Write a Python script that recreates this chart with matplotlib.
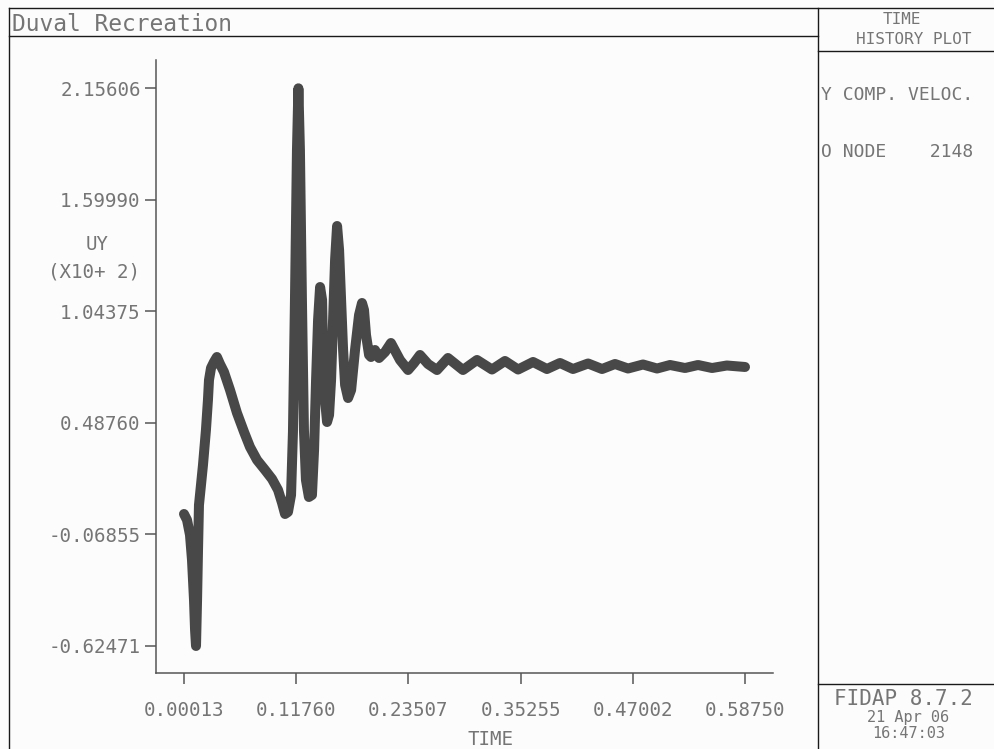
import matplotlib
matplotlib.use('Agg')
import matplotlib.pyplot as plt
from matplotlib.lines import Line2D

# time history of node 2148, Y component of velocity (x10+2)
time = [0.00013, 0.0033, 0.0064, 0.0085, 0.0106, 0.0117, 0.0127, 0.0138, 0.0148, 0.0158,
        0.0200, 0.0231, 0.0252, 0.0263, 0.0284, 0.0315, 0.0346, 0.0378, 0.0420, 0.0483,
        0.0556, 0.0630, 0.0692, 0.0766, 0.0850, 0.0923, 0.0986, 0.1028, 0.1059, 0.1090,
        0.1122, 0.1142, 0.1163, 0.1184, 0.1199, 0.1215, 0.1236, 0.1257, 0.1278, 0.1309,
        0.1341, 0.1363, 0.1384, 0.1405, 0.1426, 0.1447, 0.1457, 0.1478, 0.1499, 0.1520,
        0.1541, 0.1562, 0.1583, 0.1604, 0.1625, 0.1646, 0.1667, 0.1688, 0.1719, 0.1751,
        0.1792, 0.1834, 0.1865, 0.1886, 0.1907, 0.1939, 0.1959, 0.2001, 0.2043, 0.2106,
        0.2168, 0.2263, 0.2347, 0.2410, 0.2472, 0.2556, 0.2650, 0.2765, 0.2922, 0.3069,
        0.3226, 0.3362, 0.3499, 0.3656, 0.3801, 0.3938, 0.4074, 0.4232, 0.4378, 0.4514,
        0.4650, 0.4807, 0.4954, 0.5090, 0.5247, 0.5383, 0.5530, 0.5685, 0.5875]
uy = [0.0334, 0.0036, -0.0712, -0.1959, -0.3953, -0.5449, -0.62471, -0.3953, -0.1460, 0.0783,
      0.2777, 0.4522, 0.6018, 0.7015, 0.7613, 0.7913, 0.8163, 0.7814, 0.7415, 0.6518,
      0.5371, 0.4423, 0.3676, 0.3027, 0.2529, 0.2080, 0.1531, 0.0883, 0.0335, 0.0435,
      0.1282, 0.4426, 1.1005, 1.8484, 2.15606, 1.8484, 1.1005, 0.4522, 0.2029, 0.1182,
      0.1282, 0.3525, 0.7015, 1.0008, 1.1653, 1.1005, 0.8512, 0.6018, 0.4921, 0.5271,
      0.7015, 1.0008, 1.2999, 1.4695, 1.3498, 1.1005, 0.8512, 0.6766, 0.6117, 0.6517,
      0.8512, 1.0257, 1.0856, 1.0507, 0.9260, 0.8263, 0.8163, 0.8512, 0.8113, 0.8412,
      0.8861, 0.8014, 0.7514, 0.7864, 0.8263, 0.7814, 0.7514, 0.8113, 0.7514, 0.8014,
      0.7539, 0.7964, 0.7539, 0.7914, 0.7564, 0.7864, 0.7564, 0.7839, 0.7564, 0.7814,
      0.7589, 0.7789, 0.7589, 0.7764, 0.7614, 0.7764, 0.7614, 0.7739, 0.7665]

xticks = [0.00013, 0.11760, 0.23507, 0.35255, 0.47002, 0.58750]
yticks = [-0.62471, -0.06855, 0.48760, 1.04375, 1.59990, 2.15606]

W, H = 994, 749
def fx(x):
    return x / W
def fy(y):
    return 1 - y / H

mono = 'DejaVu Sans Mono'
txtc = '#757575'

fig = plt.figure(figsize=(W / 100, H / 100), dpi=100, facecolor='#fcfcfc')

# frame lines of the plot sheet
frame = [((9, 9), (8, 749)), ((9, 994), (8, 8)), ((9, 818), (36, 36)),
         ((818, 818), (8, 749)), ((818, 994), (51, 51)), ((818, 994), (684, 684))]
for xs, ys in frame:
    fig.add_artist(Line2D([fx(v) for v in xs], [fy(v) for v in ys],
                          color='#1a1a1a', lw=1.0))

ax = fig.add_axes([fx(156), fy(673), fx(773 - 156), (673 - 60) / H])
ax.set_facecolor('none')
ax.plot(time, uy, color='#484848', lw=7.2, solid_joinstyle='round', solid_capstyle='round')

ax.set_xlim(-0.02919, 0.61681)
ax.set_ylim(-0.75937, 2.29717)
ax.set_xticks(xticks)
ax.set_xticklabels([f'{v:.5f}' for v in xticks])
ax.set_yticks(yticks)
ax.set_yticklabels([f'{v:.5f}' for v in yticks])
for s in ['top', 'right']:
    ax.spines[s].set_visible(False)
for s in ['left', 'bottom']:
    ax.spines[s].set_color('#555555')
    ax.spines[s].set_linewidth(1.1)
ax.tick_params(axis='both', direction='out', length=8, width=1.1, color='#555555',
               labelcolor=txtc, labelsize=13.8)
ax.tick_params(axis='x', pad=12)
ax.tick_params(axis='y', pad=3)
for lab in ax.get_xticklabels() + ax.get_yticklabels():
    lab.set_family(mono)

def label(x, y, s, size, ha='left'):
    fig.text(fx(x), fy(y), s, family=mono, color=txtc, fontsize=size, ha=ha, va='baseline')

label(490, 745, 'TIME', 13.8, 'center')
label(97, 250, 'UY', 13.8, 'center')
label(94, 278, '(X10+ 2)', 13.8, 'center')

label(12, 31, 'Duval Recreation', 16.5)

label(902, 24, 'TIME', 11.5, 'center')
label(914, 43.5, 'HISTORY PLOT', 11.5, 'center')
label(821, 100, 'Y COMP. VELOC.', 13)
label(821, 157, 'O NODE    2148', 13)

label(834, 705, 'FIDAP 8.7.2', 15)
label(908, 722, '21 Apr 06', 11, 'center')
label(909, 738, '16:47:03', 11, 'center')

fig.savefig('out.png', dpi=100, facecolor=fig.get_facecolor())
